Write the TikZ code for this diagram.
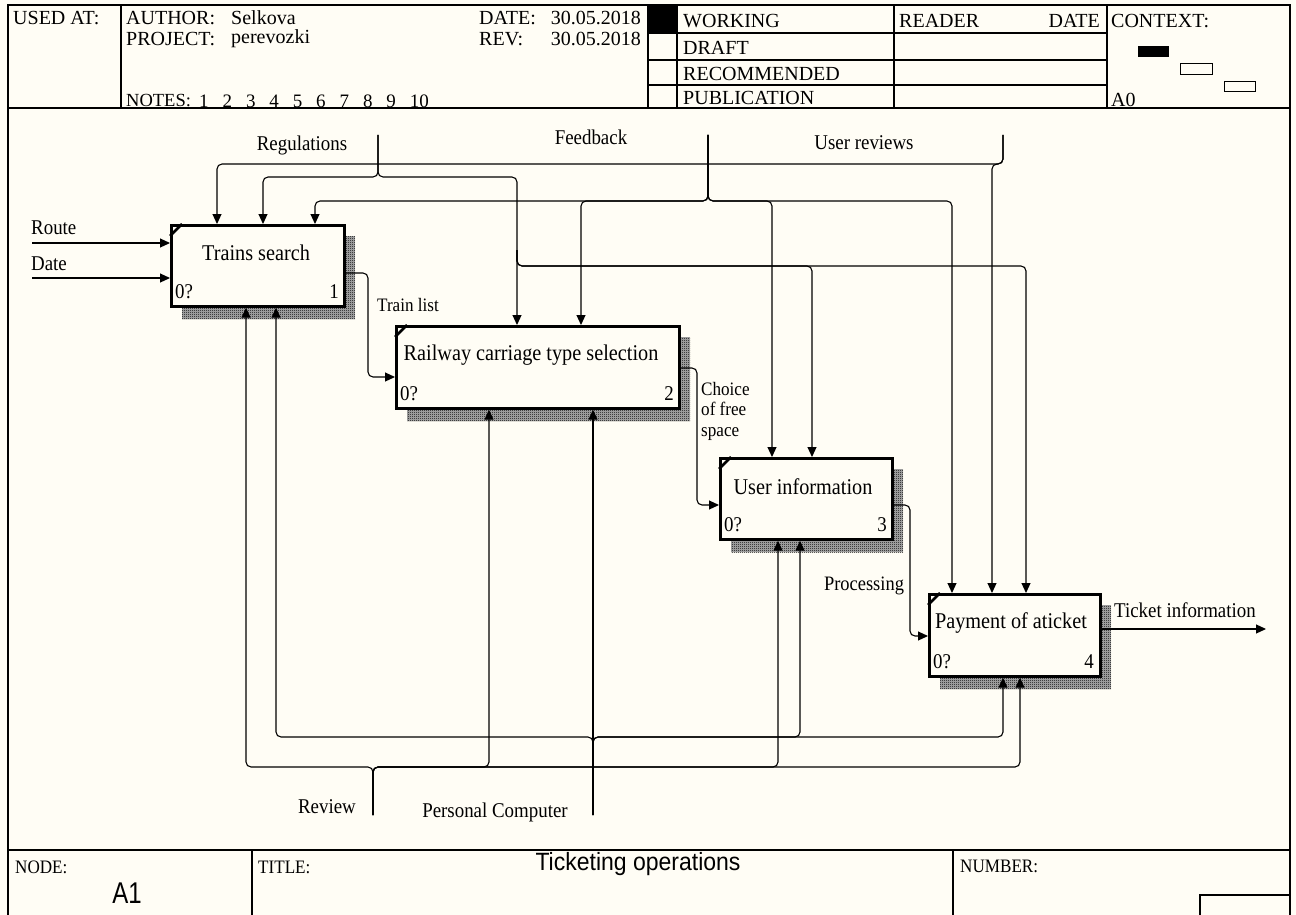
\documentclass[tikz,border=0pt]{standalone}
\usepackage{fontspec}
\setmainfont{Liberation Serif}
\newfontfamily\cserif{Liberation Serif}[FakeStretch=0.9]
\newfontfamily\carial{Liberation Sans}[FakeStretch=0.8]
\newfontfamily\tarial{Liberation Sans}[FakeStretch=0.92]
\usetikzlibrary{arrows.meta,patterns,calc}
\definecolor{bgc}{RGB}{255,253,245}
\pgfdeclarepatternformonly{fineck}{\pgfpointorigin}{\pgfpoint{2pt}{2pt}}{\pgfpoint{2pt}{2pt}}{%
  \pgfpathrectangle{\pgfpointorigin}{\pgfpoint{1pt}{1pt}}%
  \pgfpathrectangle{\pgfpoint{1pt}{1pt}}{\pgfpoint{1pt}{1pt}}%
  \pgfusepath{fill}}
\begin{document}
\begin{tikzpicture}[x=1pt,y=-1pt,
  conn/.style={line width=1.1pt, rounded corners=5pt},
  arr/.style={conn, -{Triangle[length=10pt,width=9pt]}},
  frame/.style={line width=1.3pt},
  box/.style={draw, line width=2.7pt, fill=bgc, inner sep=0pt, anchor=north west},
  shadebase/.style={fill=black!30},
  shade/.style={pattern=fineck, pattern color=black},
  tick/.style={line width=2.6pt},
  lbl/.style={font=\cserif\fontsize{21}{24}\selectfont, inner sep=0pt},
  slbl/.style={font=\cserif\fontsize{19}{20.5}\selectfont, inner sep=0pt},
  hdr/.style={font=\fontsize{20}{22}\selectfont, inner sep=0pt, anchor=west},
  btxt/.style={font=\cserif\fontsize{22.5}{26}\selectfont, inner sep=0pt},
  num/.style={font=\cserif\fontsize{21}{24}\selectfont, inner sep=0pt},
]
\useasboundingbox[fill=bgc] (0,0) rectangle (1296,915);

% ---------- frame ----------
\draw[frame] (8,915) -- (8,5) -- (1290,5) -- (1290,915);
\draw[frame] (8,108) -- (1290,108);
\draw[frame] (121,5) -- (121,108);
\draw[frame] (648,5) -- (648,108);
\draw[frame] (677,5) -- (677,108);
\draw[frame] (894,5) -- (894,108);
\draw[frame] (1107,5) -- (1107,108);
\draw[frame] (648,33) -- (1107,33);
\draw[frame] (648,60) -- (1107,60);
\draw[frame] (648,85) -- (1107,85);
\fill (648,5) rectangle (677,33);

% header texts
\node[hdr] (usedat) at (13,18) {USED AT:};
\node[hdr] (author) at (126,18) {AUTHOR:};
\node[hdr] (authorv) at (231,18) {Selkova};
\node[hdr] (project) at (126,39) {PROJECT:};
\node[hdr] (projectv) at (231,39) {perevozki};
\node[hdr] (date) at (479,18) {DATE:};
\node[hdr, anchor=east] (datev) at (641,18) {30.05.2018};
\node[hdr] (rev) at (479,39) {REV:};
\node[hdr, anchor=east] (revv) at (641,39) {30.05.2018};
\node[hdr, font=\fontsize{18.5}{22}\selectfont] (notes) at (126,101) {NOTES:};
\foreach \i in {1,...,10} {
  \node[hdr, font=\fontsize{19}{22}\selectfont] (note\i) at ({199+23.4*(\i-1)},101) {\i};
}
\node[hdr] (working) at (683,21) {WORKING};
\node[hdr] (draft) at (683,48) {DRAFT};
\node[hdr] (recom) at (683,74) {RECOMMENDED};
\node[hdr] (public) at (683,98) {PUBLICATION};
\node[hdr] (reader) at (899,21) {READER};
\node[hdr, anchor=east] (rdate) at (1100,21) {DATE};
\node[hdr] (context) at (1111,21) {CONTEXT:};
\node[hdr] (a0) at (1111,100) {A0};
\fill (1138,46) rectangle (1169,57);
\draw[line width=1pt] (1180,64) rectangle (1212,75);
\draw[line width=1pt] (1224,82) rectangle (1255,92);

% ---------- footer ----------
\draw[frame] (8,850) -- (1290,850);
\draw[frame] (252,850) -- (252,915);
\draw[frame] (953,850) -- (953,915);
\draw[frame] (1200,915) -- (1200,895) -- (1290,895);
\node[hdr, font=\cserif\fontsize{19}{22}\selectfont] (nodel) at (15,867) {NODE:};
\node[hdr, font=\cserif\fontsize{19}{22}\selectfont] (titlel) at (258,867) {TITLE:};
\node[hdr, font=\cserif\fontsize{19}{22}\selectfont] (numberl) at (960,866) {NUMBER:};
\node[inner sep=0pt, font=\carial\fontsize{30}{34}\selectfont] (a1) at (127,893) {A1};
\node[inner sep=0pt, font=\tarial\fontsize{25}{29}\selectfont] (title) at (638,864) {Ticketing operations};

% ---------- boxes ----------
\foreach \r in {{(182,236) rectangle (355,319)},{(407,337) rectangle (690,421)},{(731,469) rectangle (903,552)},{(940,605) rectangle (1111,689)}} {
  \fill[shadebase] \r;
  \fill[shade] \r;
}

\node[box, minimum width=173pt, minimum height=81pt] (ts) at (170,224) {};
\node[box, minimum width=283pt, minimum height=82pt] (rc) at (395,325) {};
\node[box, minimum width=172pt, minimum height=81pt] (ui) at (719,457) {};
\node[box, minimum width=171pt, minimum height=82pt] (pa) at (928,593) {};

\foreach \b in {ts,rc,ui,pa} {
  \draw[tick] ([yshift=-12pt]\b.north west) -- ([xshift=12pt]\b.north west);
}

\node[btxt] (ts-t) at (256,253) {Trains search};
\node[num, anchor=west] (ts-n) at (175,292) {0?};
\node[num, anchor=east] (ts-i) at (339,292) {1};

\node[btxt] (rc-t) at (531,355) {Railway carriage type selection};
\node[num, anchor=west] (rc-n) at (400,394) {0?};
\node[num, anchor=east] (rc-i) at (674,394) {2};

\node[btxt] (ui-t) at (803,487) {User information};
\node[num, anchor=west] (ui-n) at (724,525) {0?};
\node[num, anchor=east] (ui-i) at (887,525) {3};

\node[btxt] (pa-t) at (1011,623) {Payment of aticket};
\node[num, anchor=west] (pa-n) at (933,662) {0?};
\node[num, anchor=east] (pa-i) at (1094,662) {4};

% ---------- inputs / outputs ----------
\coordinate (route) at (32,243);
\coordinate (datei) at (32,278);
\draw[arr] (route) -- (route -| ts.west);
\draw[arr] (datei) -- (datei -| ts.west);
\node[lbl, anchor=west] (route-l) at (31,228) {Route};
\node[lbl, anchor=west] (date-l) at (31,264) {Date};

\draw[arr] (ts.east |- 0,273) -- (368,273) -- (368,377) -- (368,377 -| rc.west);
\node[slbl] (tl-l) at (408,305) {Train list};

\draw[arr] (rc.east |- 0,368) -- (697,368) -- (697,505) -- (697,505 -| ui.west);
\node[slbl, anchor=north west, align=left] (ch-l) at (701,382) {Choice\\of free\\space};

\draw[arr] (ui.east |- 0,505) -- (910,505) -- (910,636) -- (910,636 -| pa.west);
\node[lbl, font=\cserif\fontsize{20.5}{24}\selectfont] (pr-l) at (864,586) {Processing};

\coordinate (ticket) at (1266,629);
\draw[arr] (pa.east |- ticket) -- (ticket);
\node[lbl, anchor=west] (tk-l) at (1114,610) {Ticket information};

% ---------- controls ----------
\coordinate (reg) at (378,135);
\draw[arr] (reg) -- (378,177) -- (263,177) -- (263,0 |- ts.north);
\draw[arr] (reg) -- (378,177) -- (517,177) -- (517,0 |- rc.north);
\draw[arr] (517,250) -- (517,266) -- (812,266) -- (812,0 |- ui.north);
\draw[arr] (517,250) -- (517,266) -- (1026,266) -- (1026,0 |- pa.north);
\node[lbl] (reg-l) at (302,145) {Regulations};

\coordinate (fb) at (708,135);
\draw[arr] (fb) -- (708,201) -- (315,201) -- (315,0 |- ts.north);
\draw[arr] (fb) -- (708,201) -- (581,201) -- (581,0 |- rc.north);
\draw[arr] (fb) -- (708,201) -- (772,201) -- (772,0 |- ui.north);
\draw[arr] (fb) -- (708,201) -- (952,201) -- (952,0 |- pa.north);
\node[lbl] (fb-l) at (591,137) {Feedback};

\coordinate (ur) at (1003,135);
\draw[arr] (ur) -- (1003,164) -- (217,164) -- (217,0 |- ts.north);
\draw[arr] (ur) -- (1003,164) -- (992,164) -- (992,0 |- pa.north);
\node[lbl] (ur-l) at (864,143) {User reviews};

% ---------- mechanisms ----------
\coordinate (rv) at (373,815);
\draw[arr] (rv) -- (373,767) -- (246,767) -- (246,0 |- ts.south);
\draw[arr] (rv) -- (373,767) -- (489,767) -- (489,0 |- rc.south);
\draw[arr] (rv) -- (373,767) -- (778,767) -- (778,0 |- ui.south);
\draw[arr] (rv) -- (373,767) -- (1020,767) -- (1020,0 |- pa.south);
\node[lbl] (rv-l) at (327,807) {Review};

\coordinate (pc) at (593,815);
\draw[arr] (pc) -- (593,0 |- rc.south);
\draw[arr] (pc) -- (593,737) -- (276,737) -- (276,0 |- ts.south);
\draw[arr] (pc) -- (593,737) -- (800,737) -- (800,0 |- ui.south);
\draw[arr] (pc) -- (593,737) -- (1003,737) -- (1003,0 |- pa.south);
\node[lbl] (pc-l) at (495,812) {Personal Computer};
\end{tikzpicture}
\end{document}
